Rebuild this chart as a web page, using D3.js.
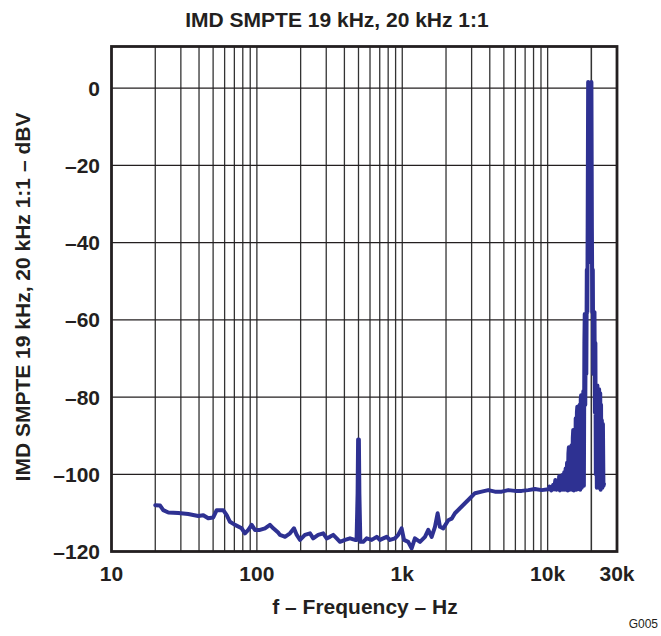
<!DOCTYPE html>
<html>
<head>
<meta charset="utf-8">
<script src="https://cdn.jsdelivr.net/npm/d3@7"></script>
<style>
  body { margin: 0; background: #fff; }
  text { font-family: "Liberation Sans", Arial, sans-serif; font-weight: bold; fill: #231f20; }
</style>
</head>
<body>
<svg class="chart" width="661" height="636"></svg>
<script>
// tick labels
const xTicks = [10, 100, 1000, 10000, 30000];
const xTickLabels = ['10', '100', '1k', '10k', '30k'];
const yTicks = [0, -20, -40, -60, -80, -100, -120];
const yTickLabels = ['0', '–20', '–40', '–60', '–80', '–100', '–120'];

const lowHz = [20, 21.6, 22.7, 24.6, 28.8, 33.7, 39.5, 42.8, 46.3, 50.1, 52.9, 58.7, 62, 65.3, 70.7, 78.6, 82.8, 87.3, 92.1, 97, 105, 113.7, 123, 129.7, 140, 144, 152, 156, 169, 180, 188, 198, 214, 232, 244, 264, 286, 302, 318, 335, 354, 373, 404, 437, 473];
const lowDbv = [-108, -108.1, -109.3, -109.9, -110, -110.3, -110.8, -110.6, -111.4, -111.2, -109.3, -109.3, -110.6, -112.3, -113.1, -114, -115.3, -114.4, -113.1, -114.4, -114.4, -114, -113.1, -114, -115.1, -115.7, -116, -116.2, -115.3, -114, -115.7, -117, -115.7, -115.3, -116.6, -115.7, -115.3, -116.6, -116.2, -115.7, -116.6, -117.5, -117, -116.6, -117];

const midHz = [485, 493, 497, 503, 507, 515, 539, 569, 616, 667, 703, 740, 781, 823, 891, 938, 990, 1028, 1099, 1160, 1222, 1324, 1433, 1510, 1593, 1679, 1751, 1816, 1914, 2072, 2187, 2303, 2493, 2699, 2922, 3163, 3518, 3903, 4341, 4827, 5360, 5958, 6624, 7359, 8182, 9095, 10096];
const midDbv = [-117, -105, -91, -91, -105, -117.5, -117.5, -116.6, -117, -116.2, -117, -116.6, -116.2, -117, -116.6, -115.7, -114, -117, -117.5, -119.2, -116.6, -117.5, -116.2, -114.4, -116.2, -113.6, -110.1, -113.6, -114, -111.9, -111.5, -110.1, -108.8, -107.5, -106.2, -104.9, -104.5, -104.1, -104.5, -104.5, -104.1, -104.3, -104.3, -104.1, -103.8, -104.1, -103.9];

// 19 kHz / 20 kHz tones and their sidebands
const highHz = [10300, 10600, 10900, 11100, 11300, 11500, 11700, 11900, 12000, 12150, 12300, 12450, 12600, 12750, 12900, 13000, 13150, 13300, 13450, 13600, 13750, 13900, 14000, 14150, 14300, 14450, 14600, 14750, 14900, 15000, 15150, 15300, 15450, 15600, 15750, 15900, 16000, 16150, 16300, 16450, 16600, 16750, 16900, 17000, 17150, 17300, 17450, 17600, 17750, 17900, 18000, 18150, 18300, 18450, 18600, 18750, 18850, 19000, 19200, 19500, 19800, 20000, 20150, 20300, 20450, 20600, 20800, 21000, 21150, 21300, 21450, 21600, 21800, 22000, 22150, 22300, 22450, 22600, 22800, 23000, 23150, 23300, 23450, 23600, 23800, 24000, 24200, 24400];
const highDbv = [-103.2, -104.2, -102.8, -103.9, -101.5, -104, -102.2, -103.8, -100.5, -104.2, -101, -103.9, -100.2, -104, -101.5, -99.5, -104, -98.5, -103.5, -97, -104.2, -94.5, -93, -104, -95, -103, -92.5, -104, -90.5, -88.5, -104.2, -91, -103.5, -85.5, -104, -84, -82.5, -103.8, -84.5, -103, -82, -104, -80.5, -79.5, -103.5, -82, -102.5, -78.5, -103, -66, -58.5, -82, -60, -74, -47, -58, -36, 1.6, -40, -45, -40, 1.6, -36, -58, -47, -74, -60, -58, -84, -66, -100, -78, -103.5, -77, -103, -79, -103.5, -78, -103, -79, -104, -82, -103, -86, -103.5, -87, -103, -102.5];

const margin = { left: 111.5, right: 617, top: 46.5, bottom: 551.5 };
const x = d3.scaleLog().domain([10, 30000]).range([margin.left, margin.right]);
const y = d3.scaleLinear().domain([-120, 10.8]).range([margin.bottom, margin.top]);

const svg = d3.select('.chart');

// vertical grid: every 1-9 step of each decade
const xGrid = [];
for (let dec = 10; dec <= 10000; dec *= 10) {
  for (let m = 1; m <= 9; m++) {
    const f = dec * m;
    if (f > 10 && f < 30000) xGrid.push(f);
  }
}
xGrid.push(20000);

svg.append('g')
  .selectAll('line')
  .data(xGrid)
  .enter()
  .append('line')
  .attr('x1', d => x(d)).attr('x2', d => x(d))
  .attr('y1', margin.top).attr('y2', margin.bottom)
  .attr('stroke', '#333')
  .attr('stroke-width', 1.3);

svg.append('g')
  .selectAll('line')
  .data(yTicks.filter(d => d > -120))
  .enter()
  .append('line')
  .attr('x1', margin.left).attr('x2', margin.right)
  .attr('y1', d => y(d)).attr('y2', d => y(d))
  .attr('stroke', '#231f20')
  .attr('stroke-width', 1.3);

// trace
const points = lowHz.map((f, i) => [f, lowDbv[i]])
  .concat(midHz.map((f, i) => [f, midDbv[i]]))
  .concat(highHz.map((f, i) => [f, highDbv[i]]));

svg.append('path')
  .datum(points)
  .attr('fill', 'none')
  .attr('stroke', '#2e3192')
  .attr('stroke-width', 4)
  .attr('stroke-linejoin', 'round')
  .attr('stroke-linecap', 'round')
  .attr('d', d3.line().x(d => x(d[0])).y(d => y(d[1])));

// frame
svg.append('rect')
  .attr('x', margin.left).attr('y', margin.top)
  .attr('width', margin.right - margin.left)
  .attr('height', margin.bottom - margin.top)
  .attr('fill', 'none')
  .attr('stroke', '#231f20')
  .attr('stroke-width', 2.8);

// tick labels
svg.append('g')
  .selectAll('text')
  .data(xTicks)
  .enter()
  .append('text')
  .attr('x', d => x(d))
  .attr('y', 581)
  .attr('text-anchor', 'middle')
  .style('font-size', '21px')
  .text((d, i) => xTickLabels[i]);

svg.append('g')
  .selectAll('text')
  .data(yTicks)
  .enter()
  .append('text')
  .attr('x', 100)
  .attr('y', d => y(d) + 7.5)
  .attr('text-anchor', 'end')
  .style('font-size', '21px')
  .text((d, i) => yTickLabels[i]);

// titles
svg.append('text')
  .attr('x', 337).attr('y', 27)
  .attr('text-anchor', 'middle')
  .style('font-size', '21px')
  .text('IMD SMPTE 19 kHz, 20 kHz 1:1');

svg.append('text')
  .attr('x', 365).attr('y', 614)
  .attr('text-anchor', 'middle')
  .style('font-size', '21px')
  .text('f – Frequency – Hz');

svg.append('text')
  .attr('transform', 'translate(30, 297) rotate(-90)')
  .attr('text-anchor', 'middle')
  .style('font-size', '21px')
  .text('IMD SMPTE 19 kHz, 20 kHz 1:1 – dBV');

svg.append('text')
  .attr('x', 658).attr('y', 628)
  .attr('text-anchor', 'end')
  .style('font-weight', 'normal')
  .style('font-size', '12px')
  .text('G005');
</script>
</body>
</html>
